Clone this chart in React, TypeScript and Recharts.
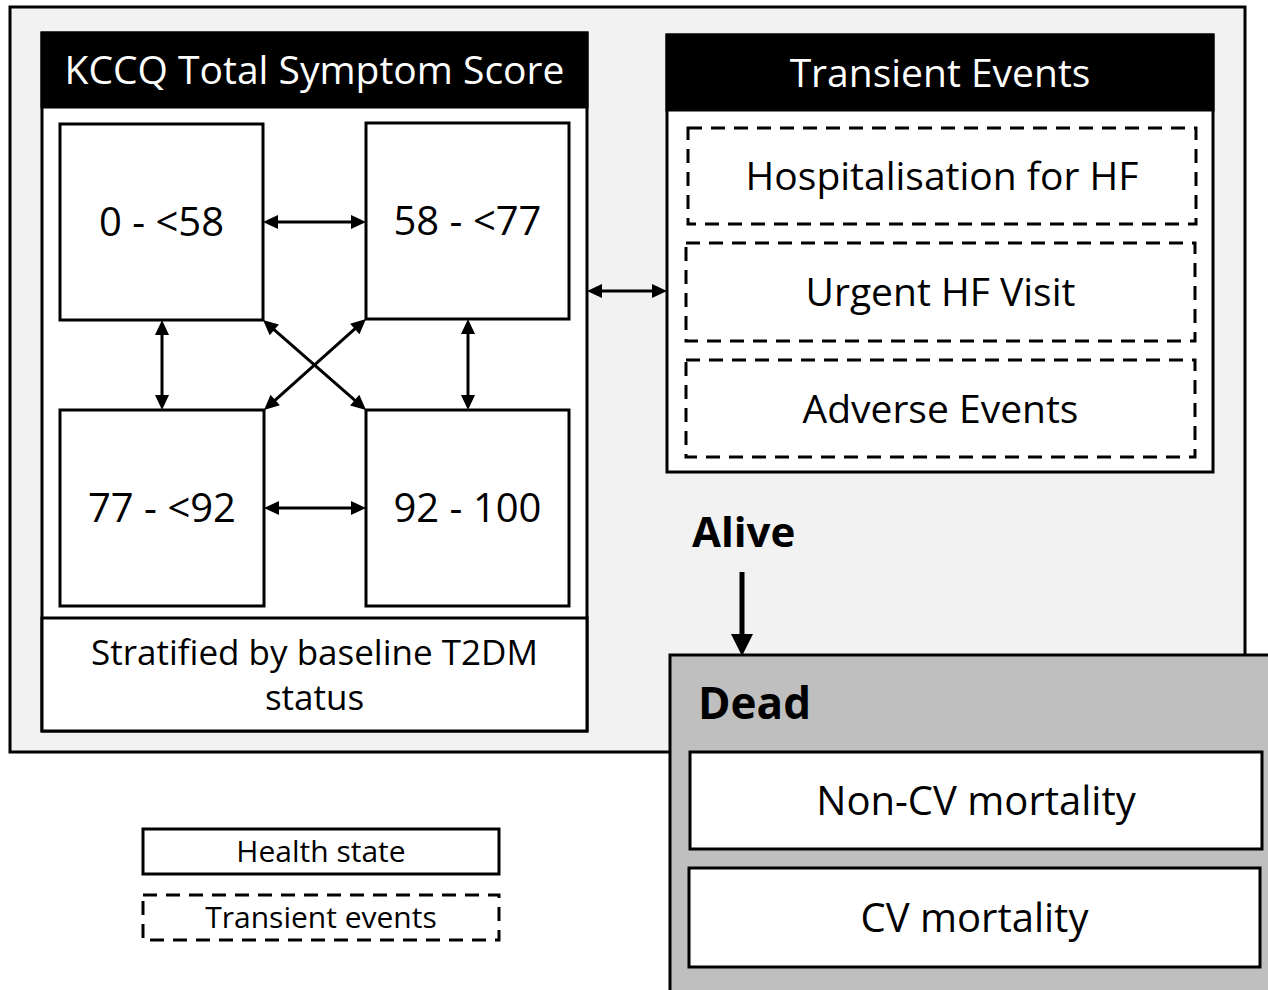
import { ComposedChart, XAxis, YAxis, ReferenceArea, ReferenceLine } from 'recharts';

// diagram content
const panelTitles = ['KCCQ Total Symptom Score', 'Transient Events'];
const healthStates = ['0 - <58', '58 - <77', '77 - <92', '92 - 100'];
const transitions = [[0, 1], [0, 2], [0, 3], [1, 2], [1, 3], [2, 3]];
const stratification = ['Stratified by baseline T2DM', 'status'];
const transientEvents = ['Hospitalisation for HF', 'Urgent HF Visit', 'Adverse Events'];
const vitalStates = ['Alive', 'Dead'];
const deathCauses = ['Non-CV mortality', 'CV mortality'];
const legendItems = ['Health state', 'Transient events'];

// layout, in canvas units (1268 x 990, y grows downward)
const W = 1268;
const H = 990;
const stateBoxes = [
  { x1: 60, x2: 263, y1: 124, y2: 320 },
  { x1: 366, x2: 569, y1: 123, y2: 319 },
  { x1: 60, x2: 264, y1: 410, y2: 606 },
  { x1: 366, x2: 569, y1: 410, y2: 606 },
];
const eventBoxes = [
  { x1: 688, x2: 1196, y1: 128, y2: 224 },
  { x1: 686, x2: 1195, y1: 243, y2: 341 },
  { x1: 686, x2: 1195, y1: 360, y2: 457 },
];
const causeBoxes = [
  { x1: 690, x2: 1262, y1: 752, y2: 849 },
  { x1: 689, x2: 1260, y1: 868, y2: 967 },
];
const legendBoxes = [
  { x1: 143, x2: 499, y1: 829, y2: 874 },
  { x1: 143, x2: 499, y1: 895, y2: 940 },
];

const FONT = '"Open Sans", sans-serif';
const DASH = '14 9';

type BoxStyle = {
  fill?: string;
  stroke?: string;
  strokeWidth?: number;
  dash?: string;
  lines?: string[];
  fontSize?: number;
  color?: string;
  bold?: boolean;
  anchor?: 'middle' | 'start';
  lineGap?: number;
};

const boxShape = (s: BoxStyle) => (p: any) => {
  const { x, y, width, height } = p;
  const lines = s.lines || [];
  const fs = s.fontSize || 35;
  const gap = s.lineGap || fs * 1.3;
  const cx = s.anchor === 'start' ? x : x + width / 2;
  const cy = y + height / 2;
  return (
    <g>
      <rect
        x={x}
        y={y}
        width={width}
        height={height}
        fill={s.fill || 'none'}
        stroke={s.stroke || 'none'}
        strokeWidth={s.strokeWidth ?? 3}
        strokeDasharray={s.dash}
      />
      {lines.map((l, i) => (
        <text
          key={i}
          x={cx}
          y={cy - ((lines.length - 1) / 2) * gap + i * gap + fs * 0.36}
          textAnchor={s.anchor || 'middle'}
          fontFamily={FONT}
          fontSize={fs}
          fontWeight={s.bold ? 700 : 400}
          fill={s.color || '#000'}
        >
          {l}
        </text>
      ))}
    </g>
  );
};

const Arrow = (p: any) => {
  const { x1, y1, x2, y2, both, w, head, half } = p;
  const len = Math.hypot(x2 - x1, y2 - y1);
  const ux = (x2 - x1) / len;
  const uy = (y2 - y1) / len;
  const tri = (tx: number, ty: number, dx: number, dy: number) => {
    const bx = tx - dx * head;
    const by = ty - dy * head;
    return `${tx},${ty} ${bx - dy * half},${by + dx * half} ${bx + dy * half},${by - dx * half}`;
  };
  const sx = both ? x1 + ux * head * 0.8 : x1;
  const sy = both ? y1 + uy * head * 0.8 : y1;
  return (
    <g>
      <line x1={sx} y1={sy} x2={x2 - ux * head * 0.8} y2={y2 - uy * head * 0.8} stroke="#000" strokeWidth={w} />
      <polygon points={tri(x2, y2, ux, uy)} fill="#000" />
      {both && <polygon points={tri(x1, y1, -ux, -uy)} fill="#000" />}
    </g>
  );
};

// end points of a transition arrow between two health-state boxes
const link = (a: number, b: number) => {
  const A = stateBoxes[a];
  const B = stateBoxes[b];
  const sameRow = Math.abs(A.y1 - B.y1) < 10;
  const sameCol = Math.abs(A.x1 - B.x1) < 10;
  if (sameRow) {
    const y = Math.round((A.y1 + A.y2) / 2);
    return [{ x: A.x2, y }, { x: B.x1, y }];
  }
  if (sameCol) {
    const x = Math.round((A.x1 + A.x2) / 2);
    return [{ x, y: A.y2 }, { x, y: B.y1 }];
  }
  const ax = A.x1 < B.x1 ? A.x2 : A.x1;
  const bx = A.x1 < B.x1 ? B.x1 : B.x2;
  return [{ x: ax, y: A.y2 }, { x: bx, y: B.y1 }];
};

const area = (key: string, b: { x1: number; x2: number; y1: number; y2: number }, s: BoxStyle) => (
  <ReferenceArea
    key={key}
    x1={b.x1}
    x2={b.x2}
    y1={b.y1}
    y2={b.y2}
    ifOverflow="visible"
    shape={boxShape(s)}
  />
);

export default function App() {
  return (
    <div style={{ position: 'absolute', left: 0, top: 0, background: '#fff' }}>
      <ComposedChart width={W} height={H} data={[]} margin={{ top: 0, right: 0, bottom: 0, left: 0 }}>
        <XAxis type="number" dataKey="x" domain={[0, W]} allowDataOverflow hide />
        <YAxis type="number" dataKey="y" domain={[0, H]} allowDataOverflow reversed hide />

        {area('alive-bg', { x1: 10, x2: 1245, y1: 7, y2: 752 }, { fill: '#f2f2f2', stroke: '#000' })}

        {area('kccq', { x1: 42, x2: 587, y1: 33, y2: 731 }, { fill: '#fff', stroke: '#000' })}
        {area('kccq-head', { x1: 42, x2: 587, y1: 33, y2: 107 }, {
          fill: '#000', stroke: '#000', lines: [panelTitles[0]], color: '#fff', fontSize: 39,
        })}
        {area('kccq-foot', { x1: 42, x2: 587, y1: 618, y2: 731 }, {
          fill: '#fff', stroke: '#000', lines: stratification, fontSize: 35, lineGap: 45,
        })}
        {healthStates.map((h, i) => area(`hs-${i}`, stateBoxes[i], { fill: '#fff', stroke: '#000', lines: [h], fontSize: 40 }))}

        {area('te', { x1: 667, x2: 1213, y1: 35, y2: 472 }, { fill: '#fff', stroke: '#000' })}
        {area('te-head', { x1: 667, x2: 1213, y1: 35, y2: 110 }, {
          fill: '#000', stroke: '#000', lines: [panelTitles[1]], color: '#fff', fontSize: 39,
        })}
        {transientEvents.map((t, i) => area(`te-${i}`, eventBoxes[i], { fill: '#fff', stroke: '#000', dash: DASH, lines: [t], fontSize: 39 }))}

        {area('alive', { x1: 692, x2: 800, y1: 510, y2: 554 }, { lines: [vitalStates[0]], bold: true, anchor: 'start', fontSize: 42 })}

        {area('dead', { x1: 670, x2: 1290, y1: 655, y2: 1010 }, { fill: '#bfbfbf', stroke: '#000' })}
        {area('dead-label', { x1: 698, x2: 810, y1: 681, y2: 725 }, { lines: [vitalStates[1]], bold: true, anchor: 'start', fontSize: 44 })}
        {deathCauses.map((d, i) => area(`dc-${i}`, causeBoxes[i], { fill: '#fff', stroke: '#000', lines: [d], fontSize: 40 }))}

        {area('lg-0', legendBoxes[0], { fill: '#fff', stroke: '#000', lines: [legendItems[0]], fontSize: 30 })}
        {area('lg-1', legendBoxes[1], { fill: '#fff', stroke: '#000', dash: DASH, lines: [legendItems[1]], fontSize: 30 })}

        {transitions.map(([a, b]) => (
          <ReferenceLine
            key={`tr-${a}-${b}`}
            segment={link(a, b)}
            ifOverflow="visible"
            shape={(p: any) => <Arrow {...p} both w={3} head={15} half={7} />}
          />
        ))}
        <ReferenceLine
          segment={[{ x: 587, y: 291 }, { x: 667, y: 291 }]}
          ifOverflow="visible"
          shape={(p: any) => <Arrow {...p} both w={3} head={15} half={7} />}
        />
        <ReferenceLine
          segment={[{ x: 742, y: 572 }, { x: 742, y: 656 }]}
          ifOverflow="visible"
          shape={(p: any) => <Arrow {...p} w={5} head={22} half={11} />}
        />
      </ComposedChart>
    </div>
  );
}
